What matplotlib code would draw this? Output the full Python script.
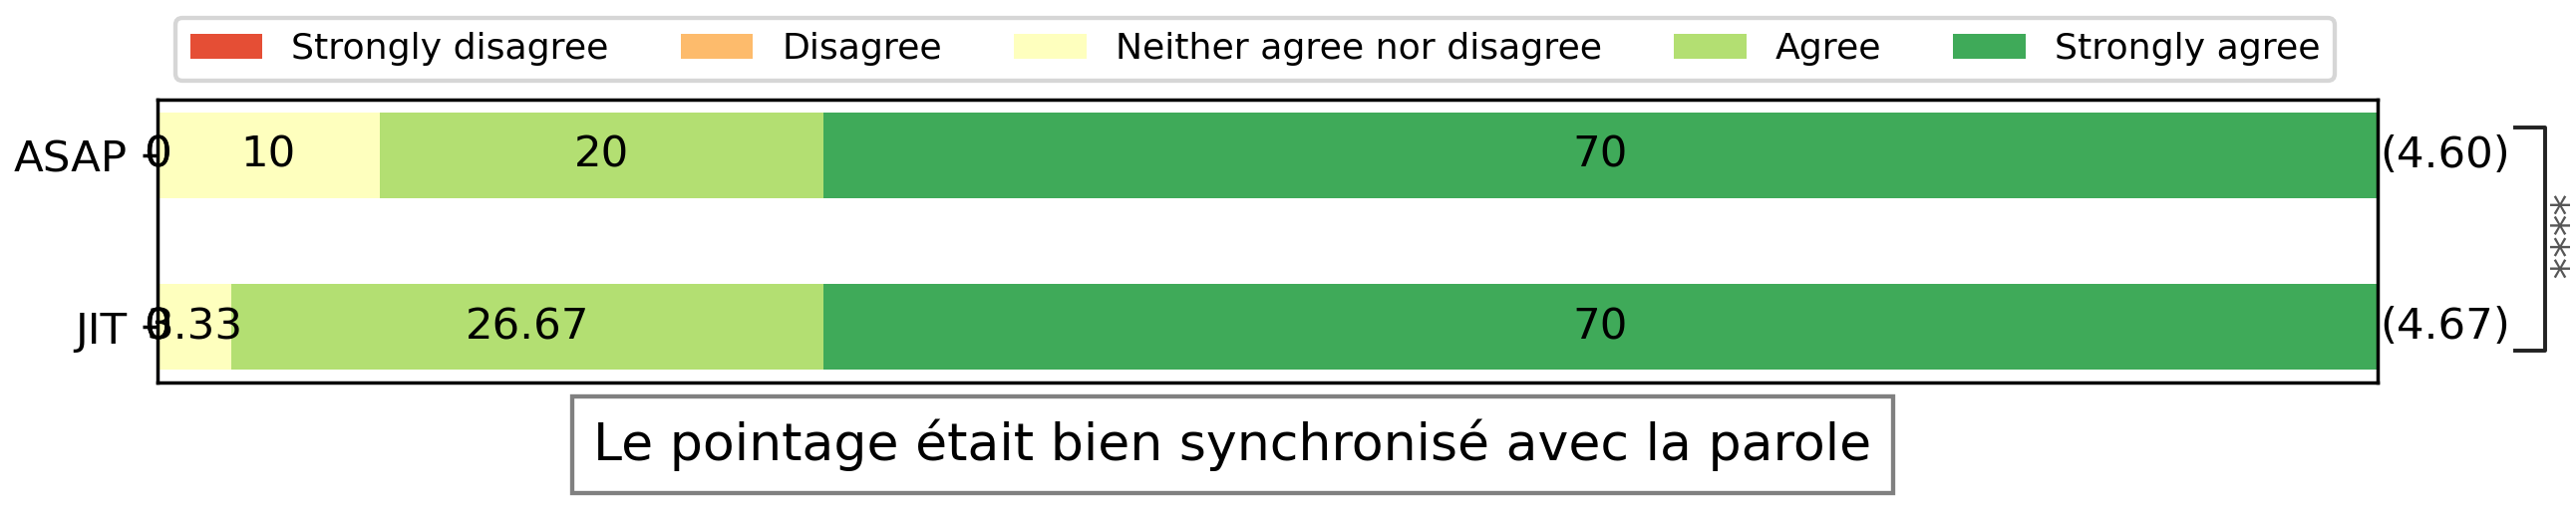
import numpy as np
import matplotlib
matplotlib.use("Agg")
import matplotlib.pyplot as plt

categories = ["ASAP", "JIT"]
levels = ["Strongly disagree", "Disagree", "Neither agree nor disagree", "Agree", "Strongly agree"]
strongly_disagree = [0, 0]
disagree = [0, 0]
neither = [10, 3.33]
agree = [20, 26.67]
strongly_agree = [70, 70]
means = ["(4.60)", "(4.67)"]
significance = "****"
title = "Le pointage était bien synchronisé avec la parole"

series = [strongly_disagree, disagree, neither, agree, strongly_agree]
colors = plt.cm.RdYlGn(np.linspace(0.15, 0.85, 5))

W, H, DPI = 2584, 512, 313
fig = plt.figure(figsize=(W / DPI, H / DPI), dpi=DPI)
ax = fig.add_axes([158 / W, 1 - 384 / H, (2385 - 158) / W, (384 - 100) / H])

y = np.arange(len(categories))
left = np.zeros(len(categories))
handles = []
for name, vals, col in zip(levels, series, colors):
    vals = np.array(vals, dtype=float)
    b = ax.barh(y, vals, left=left, height=0.5, color=col, label=name)
    handles.append(b)
    for yi, (l, v) in enumerate(zip(left, vals)):
        ax.text(l + v / 2, yi, f"{v:g}", ha="center", va="center", fontsize=10, color="black")
    left = left + vals

ax.set_xlim(0, 100)
ax.set_yticks(y)
ax.set_yticklabels(categories, fontsize=10)
ax.invert_yaxis()
ax.set_xticks([])

for yi, m in enumerate(means):
    ax.text(1.001, yi, m, transform=ax.get_yaxis_transform(), ha="left", va="center",
            fontsize=10, color="black")

# significance bracket
bx0 = (2523 - 158) / (2385 - 158)
bx1 = (2553 - 158) / (2385 - 158)
by0 = (384 - 128) / (384 - 100)
by1 = (384 - 352) / (384 - 100)
ax.plot([bx0, bx1, bx1, bx0], [by0, by0, by1, by1], transform=ax.transAxes,
        color="#222222", lw=0.9, clip_on=False)
ax.text((2556 - 158) / (2385 - 158), (384 - 238) / (384 - 100), significance,
        transform=ax.transAxes, rotation=270, ha="center", va="center",
        fontsize=10, color="#555555")

fig.legend(handles=handles, labels=levels, ncol=5, loc="upper center",
           bbox_to_anchor=(1259 / W, 1 - 18 / H), fontsize="small", frameon=True,
           borderaxespad=0)

fig.text(1236.5 / W, 1 - 446.5 / H, title, ha="center", va="center", fontsize=12,
         bbox=dict(boxstyle="square,pad=0.42", facecolor="white", edgecolor="gray", lw=1.0))

fig.savefig("out.png", dpi=DPI)
